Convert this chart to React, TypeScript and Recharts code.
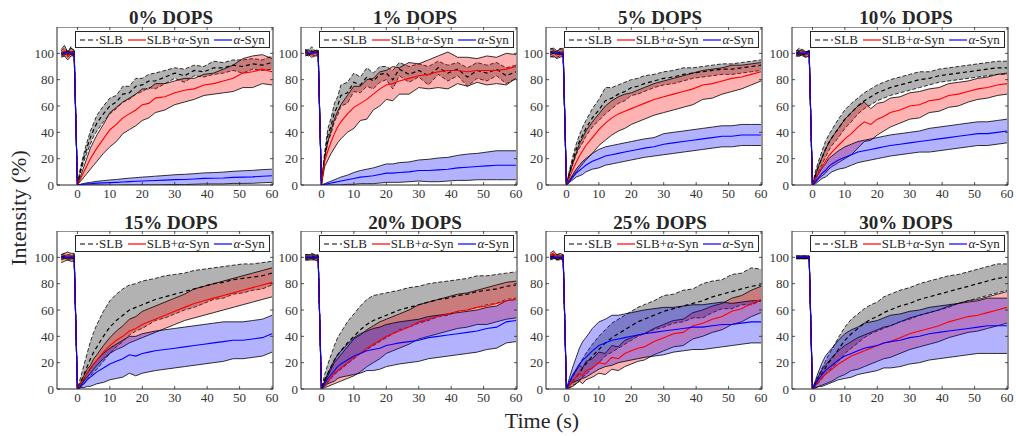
import React from "react";
import { ComposedChart, Area, Line, XAxis, YAxis, ReferenceArea } from "recharts";

const times = [-5, -4, -3, -2, -1, 0, 1, 2, 3, 4, 5, 6, 8, 10, 12, 14, 16, 18, 20, 22, 24, 27, 30, 33, 36, 39, 42, 45, 48, 51, 54, 57, 60];
const titles = ["0% DOPS", "1% DOPS", "5% DOPS", "10% DOPS", "15% DOPS", "20% DOPS", "25% DOPS", "30% DOPS"];
const xTicks = [0, 10, 20, 30, 40, 50, 60];
const yTicks = [0, 20, 40, 60, 80, 100];

// 0% DOPS
const p0SlbMean = [100, 101, 99, 102, 100, 0, 12, 21, 29, 36, 42, 47, 54, 60, 63, 69, 70, 75, 76, 79, 79, 82, 85, 83, 87, 86, 89, 89, 91, 90, 92, 91, 93];
const p0SlbSd = [2, 3, 2, 3, 2, 0, 2, 3, 4, 5, 5, 6, 6, 6, 5, 6, 5, 6, 5, 5, 6, 5, 4, 5, 4, 4, 5, 4, 4, 5, 4, 4, 5];
const p0SynMean = [100, 102, 98, 101, 100, 0, 5, 10, 15, 20, 24, 28, 35, 42, 46, 51, 54, 57, 61, 62, 66, 67, 70, 72, 73, 76, 77, 79, 81, 85, 86, 88, 86];
const p0SynSd = [3, 4, 3, 3, 2, 0, 2, 4, 6, 8, 9, 10, 11, 13, 13, 12, 12, 12, 12, 11, 11, 10, 9, 9, 8, 8, 8, 9, 10, 11, 12, 11, 10];
const p0AMean = [100, 100, 101, 100, 100, 0, 0.3, 0.6, 0.9, 1, 1.2, 1.4, 1.6, 1.8, 2, 2.3, 2.6, 2.8, 3, 3.2, 3.4, 3.7, 4.1, 4.2, 4.6, 5, 5.1, 5.3, 5.8, 6, 6.2, 6.7, 7];
const p0ASd = [1, 1, 1, 1, 1, 0, 0.3, 0.6, 0.8, 1, 1.2, 1.4, 1.7, 2, 2.2, 2.4, 2.6, 2.8, 3, 3.1, 3.3, 3.5, 3.7, 3.9, 4, 4.2, 4.3, 4.5, 4.6, 4.8, 4.9, 5, 5];

// 1% DOPS
const p1SlbMean = [101, 100, 102, 100, 101, 0, 22, 38, 45, 55, 60, 68, 70, 78, 76, 82, 79, 84, 85, 80, 88, 84, 87, 83, 89, 85, 88, 82, 87, 85, 88, 83, 86];
const p1SlbSd = [2, 2, 3, 2, 2, 0, 3, 5, 6, 7, 7, 8, 8, 7, 6, 7, 6, 6, 5, 7, 5, 6, 5, 7, 5, 6, 5, 7, 6, 6, 5, 6, 5];
const p1SynMean = [100, 101, 99, 100, 100, 0, 18, 26, 33, 39, 44, 48, 54, 59, 62, 65, 69, 73, 76, 77, 79, 81, 83, 84, 86, 87, 87, 86, 87, 87, 87, 88, 90];
const p1SynSd = [2, 2, 2, 2, 2, 0, 4, 7, 9, 11, 12, 13, 14, 16, 13, 15, 12, 13, 11, 13, 10, 12, 9, 11, 12, 14, 10, 11, 9, 11, 10, 12, 9];
const p1AMean = [101, 100, 100, 101, 100, 0, 0.5, 1, 1.5, 2, 2.5, 3, 4, 5, 6, 6.5, 7, 8, 9, 9, 9.5, 10, 11, 11, 11.5, 12, 13, 13.5, 14, 14.5, 15, 15, 15];
const p1ASd = [1, 1, 1, 1, 1, 0, 0.5, 1, 1.5, 2, 2.5, 3, 3.5, 4.5, 5, 5.5, 6, 6.5, 7, 7, 7.5, 7.5, 8, 8.5, 9, 9, 9.5, 10, 10, 10.5, 11, 11, 11];

// 5% DOPS
const p2SlbMean = [101, 100, 99, 101, 100, 0, 10, 19, 27, 33, 38, 43, 51, 57, 64, 66, 69, 71, 74, 75, 77, 79, 81, 82, 84, 85, 86, 87, 88, 88, 89, 90, 91];
const p2SlbSd = [3, 3, 2, 3, 2, 0, 2, 3, 4, 5, 6, 6, 7, 8, 10, 8, 7, 7, 6, 6, 6, 5, 5, 5, 5, 4, 4, 4, 4, 4, 4, 4, 4];
const p2SynMean = [100, 101, 99, 100, 101, 0, 6, 12, 17, 22, 26, 30, 36, 42, 47, 51, 54, 56, 58, 60, 62, 65, 67, 69, 71, 73, 76, 77, 79, 81, 82, 84, 86];
const p2SynSd = [3, 3, 3, 3, 3, 0, 3, 5, 7, 9, 10, 11, 12, 12, 13, 13, 13, 13, 12, 12, 12, 12, 12, 12, 12, 12, 11, 11, 10, 10, 9, 8, 7];
const p2AMean = [100, 101, 100, 100, 100, 0, 3, 6, 9, 11, 13, 15, 18, 20, 22, 23, 24, 25, 26, 27, 28, 29, 31, 32, 33, 34, 35, 36, 37, 37, 38, 38, 38];
const p2ASd = [1, 1, 1, 1, 1, 0, 1, 2, 3, 4, 5, 5, 6, 7, 7, 7, 7, 7, 7, 7, 7, 7, 8, 8, 8, 8, 8, 8, 8, 8, 8, 8, 8];

// 10% DOPS
const p3SlbMean = [100, 101, 100, 99, 100, 0, 8, 15, 21, 27, 32, 36, 43, 50, 55, 60, 64, 67, 70, 72, 74, 76, 78, 80, 81, 83, 84, 85, 86, 87, 88, 89, 89];
const p3SlbSd = [2, 3, 2, 2, 2, 0, 3, 4, 5, 6, 6, 6, 7, 7, 7, 6, 6, 6, 6, 6, 6, 6, 6, 6, 5, 5, 5, 5, 5, 5, 5, 5, 5];
const p3SynMean = [100, 100, 101, 99, 100, 0, 5, 10, 14, 18, 22, 25, 30, 35, 39, 44, 48, 46, 50, 52, 55, 57, 60, 61, 64, 65, 68, 69, 71, 73, 74, 76, 77];
const p3SynSd = [2, 2, 2, 2, 2, 0, 3, 5, 7, 9, 10, 11, 13, 15, 16, 16, 15, 12, 12, 11, 11, 10, 10, 10, 9, 9, 9, 9, 8, 8, 8, 8, 8];
const p3AMean = [100, 100, 100, 100, 101, 0, 3, 6, 9, 11, 14, 16, 19, 21, 23, 25, 26, 27, 28, 29, 30, 31, 32, 33, 34, 35, 36, 37, 38, 39, 39, 40, 41];
const p3ASd = [1, 1, 1, 1, 1, 0, 2, 3, 4, 5, 6, 6, 7, 8, 8, 8, 8, 8, 8, 8, 8, 8, 8, 8, 9, 9, 9, 9, 9, 9, 9, 9, 9];

// 15% DOPS
const p4SlbMean = [100, 101, 100, 100, 100, 0, 5, 11, 17, 23, 28, 32, 40, 47, 52, 56, 60, 62, 64, 66, 68, 70, 72, 74, 76, 78, 80, 81, 83, 84, 85, 86, 88];
const p4SlbSd = [2, 2, 2, 2, 2, 0, 4, 7, 10, 13, 15, 17, 19, 20, 20, 20, 19, 18, 18, 17, 16, 16, 15, 14, 14, 13, 12, 12, 11, 11, 10, 10, 9];
const p4SynMean = [99, 100, 101, 100, 100, 0, 4, 8, 12, 15, 19, 22, 28, 33, 37, 40, 44, 46, 49, 51, 53, 56, 59, 62, 65, 67, 69, 71, 73, 75, 77, 79, 81];
const p4SynSd = [3, 3, 3, 3, 3, 0, 1, 2, 3, 3, 4, 4, 5, 6, 7, 8, 9, 9, 10, 10, 10, 10, 10, 10, 11, 11, 11, 11, 11, 11, 11, 11, 11];
const p4AMean = [100, 100, 100, 100, 100, 0, 2, 4, 7, 9, 11, 13, 16, 19, 21, 23, 26, 25, 27, 28, 29, 30, 31, 32, 33, 34, 35, 36, 37, 37, 38, 39, 42];
const p4ASd = [1, 1, 1, 1, 1, 0, 1, 3, 5, 7, 8, 9, 11, 12, 13, 14, 14, 15, 15, 15, 15, 15, 15, 15, 15, 15, 15, 15, 14, 14, 14, 14, 14];

// 20% DOPS
const p5SlbMean = [100, 100, 101, 100, 100, 0, 7, 12, 17, 22, 26, 29, 35, 40, 45, 49, 52, 54, 56, 58, 60, 62, 64, 66, 68, 69, 71, 72, 74, 75, 76, 78, 79];
const p5SlbSd = [2, 2, 2, 2, 2, 0, 4, 7, 9, 11, 13, 14, 16, 17, 18, 19, 19, 18, 17, 16, 15, 15, 14, 14, 13, 13, 12, 12, 12, 11, 11, 10, 10];
const p5SynMean = [100, 100, 100, 100, 99, 0, 3, 6, 9, 12, 14, 16, 20, 24, 27, 31, 34, 37, 40, 42, 44, 47, 51, 53, 55, 57, 59, 60, 62, 63, 65, 67, 68];
const p5SynSd = [2, 2, 2, 2, 2, 0, 2, 4, 6, 8, 9, 10, 12, 14, 14, 14, 14, 14, 13, 13, 13, 13, 13, 13, 13, 13, 13, 13, 13, 14, 14, 14, 14];
const p5AMean = [100, 100, 100, 100, 100, 0, 4, 8, 11, 14, 17, 19, 22, 25, 27, 29, 30, 31, 33, 34, 35, 36, 37, 39, 40, 41, 42, 43, 44, 46, 47, 51, 52];
const p5ASd = [1, 1, 1, 1, 1, 0, 2, 4, 6, 8, 9, 10, 12, 14, 15, 15, 16, 16, 16, 16, 16, 16, 16, 16, 16, 16, 16, 16, 16, 16, 16, 16, 16];

// 25% DOPS
const p6SlbMean = [100, 101, 100, 100, 100, 0, 3, 6, 9, 12, 16, 19, 25, 30, 35, 39, 42, 45, 48, 51, 53, 56, 59, 61, 63, 65, 67, 70, 72, 74, 76, 78, 79];
const p6SlbSd = [2, 2, 2, 2, 2, 0, 2, 3, 5, 6, 7, 8, 9, 10, 10, 11, 11, 11, 11, 11, 11, 11, 12, 11, 12, 11, 13, 12, 11, 13, 12, 14, 12];
const p6SynMean = [101, 103, 100, 101, 100, 0, 3, 6, 9, 12, 10, 14, 16, 20, 19, 24, 23, 27, 29, 31, 32, 36, 39, 42, 43, 48, 50, 53, 55, 59, 61, 65, 68];
const p6SynSd = [2, 2, 2, 2, 2, 0, 2, 4, 5, 6, 6, 7, 7, 8, 8, 9, 9, 10, 10, 10, 10, 10, 10, 10, 10, 10, 10, 10, 10, 10, 10, 10, 10];
const p6AMean = [100, 100, 100, 100, 100, 0, 6, 11, 15, 19, 22, 24, 29, 33, 35, 37, 38, 39, 40, 41, 42, 43, 44, 45, 46, 47, 47, 48, 49, 49, 50, 51, 51];
const p6ASd = [1, 1, 1, 1, 1, 0, 3, 6, 9, 12, 14, 15, 17, 18, 18, 19, 18, 18, 18, 18, 18, 18, 18, 17, 17, 17, 17, 17, 17, 16, 16, 16, 16];

// 30% DOPS
const p7SlbMean = [100, 100, 100, 100, 100, 0, 4, 8, 12, 16, 20, 23, 30, 37, 42, 46, 50, 53, 55, 58, 60, 63, 65, 68, 70, 72, 74, 76, 78, 80, 82, 84, 85];
const p7SlbSd = [1, 1, 1, 1, 1, 0, 2, 3, 4, 5, 6, 7, 9, 10, 11, 11, 11, 11, 11, 12, 12, 12, 12, 12, 12, 12, 12, 11, 11, 11, 11, 11, 10];
const p7SynMean = [100, 100, 100, 100, 100, 0, 3, 6, 9, 11, 13, 15, 19, 22, 25, 27, 29, 31, 33, 35, 36, 39, 42, 44, 46, 48, 51, 53, 55, 56, 58, 60, 62];
const p7SynSd = [1, 1, 1, 1, 1, 0, 2, 4, 6, 7, 8, 9, 10, 11, 11, 12, 12, 12, 12, 12, 12, 12, 12, 12, 12, 12, 12, 12, 12, 12, 12, 12, 12];
const p7AMean = [100, 100, 100, 100, 100, 0, 4, 8, 11, 14, 16, 18, 22, 25, 27, 29, 31, 32, 33, 35, 36, 37, 39, 40, 42, 43, 44, 45, 46, 47, 48, 48, 48];
const p7ASd = [1, 1, 1, 1, 1, 0, 3, 6, 9, 11, 12, 13, 15, 17, 18, 18, 19, 19, 19, 19, 20, 20, 20, 20, 20, 20, 20, 20, 20, 20, 21, 21, 21];

const panelSeries = [
  [p0SlbMean, p0SlbSd, p0SynMean, p0SynSd, p0AMean, p0ASd],
  [p1SlbMean, p1SlbSd, p1SynMean, p1SynSd, p1AMean, p1ASd],
  [p2SlbMean, p2SlbSd, p2SynMean, p2SynSd, p2AMean, p2ASd],
  [p3SlbMean, p3SlbSd, p3SynMean, p3SynSd, p3AMean, p3ASd],
  [p4SlbMean, p4SlbSd, p4SynMean, p4SynSd, p4AMean, p4ASd],
  [p5SlbMean, p5SlbSd, p5SynMean, p5SynSd, p5AMean, p5ASd],
  [p6SlbMean, p6SlbSd, p6SynMean, p6SynSd, p6AMean, p6ASd],
  [p7SlbMean, p7SlbSd, p7SynMean, p7SynSd, p7AMean, p7ASd],
];

const FW = 216;
const FH = 158;
const colLeft = [57, 301, 546, 792];
const rowTop = [27, 231];
const AXIS_W = 40;
const AXIS_H = 20;
const RIGHT_PAD = 14;
const serif = "Liberation Serif";
const ink = "#262626";

function buildRows(s: number[][]) {
  const [sm, ss, rm, rs, am, as] = s;
  return times.map((t, i) => ({
    t,
    slb: sm[i],
    slbBand: [sm[i] - ss[i], sm[i] + ss[i]],
    syn: rm[i],
    synBand: [rm[i] - rs[i], rm[i] + rs[i]],
    a: am[i],
    aBand: [am[i] - as[i], am[i] + as[i]],
  }));
}

function XTick(props: any) {
  const { x, y, payload } = props;
  return (
    <g>
      <line x1={x} x2={x} y1={y} y2={y - 3} stroke={ink} strokeWidth={0.8} />
      <line x1={x} x2={x} y1={y - FH} y2={y - FH + 3} stroke={ink} strokeWidth={0.8} />
      <text x={x} y={y + 13} textAnchor="middle" fill="#333" fontSize={13} style={{ fontFamily: serif }}>
        {payload.value}
      </text>
    </g>
  );
}

function YTick(props: any) {
  const { x, y, payload } = props;
  return (
    <g>
      <line x1={x} x2={x + 3} y1={y} y2={y} stroke={ink} strokeWidth={0.8} />
      <line x1={x + FW} x2={x + FW - 3} y1={y} y2={y} stroke={ink} strokeWidth={0.8} />
      <text x={x - 3} y={y + 4.5} textAnchor="end" fill="#333" fontSize={13} style={{ fontFamily: serif }}>
        {payload.value}
      </text>
    </g>
  );
}

function LegendBox({ left, top }: { left: number; top: number }) {
  const item = (color: string, dash: string | undefined, label: React.ReactNode) => (
    <span style={{ display: "flex", alignItems: "center", marginRight: 5 }}>
      <svg width={18} height={6} style={{ marginRight: 1 }}>
        <line x1={0} x2={18} y1={3} y2={3} stroke={color} strokeWidth={1.2} strokeDasharray={dash} />
      </svg>
      {label}
    </span>
  );
  return (
    <div
      style={{
        position: "absolute",
        left,
        top,
        width: 195,
        height: 17,
        border: `1px solid ${ink}`,
        background: "#fff",
        display: "flex",
        alignItems: "center",
        paddingLeft: 4,
        boxSizing: "border-box",
        fontFamily: serif,
        fontSize: 13,
        color: ink,
        whiteSpace: "nowrap",
      }}
    >
      {item("#000", "5 3", "SLB")}
      {item("#ff0000", undefined, <span>SLB+<i>α</i>-Syn</span>)}
      {item("#0000ff", undefined, <span><i>α</i>-Syn</span>)}
    </div>
  );
}

function Panel({ idx }: { idx: number }) {
  const fx = colLeft[idx % 4];
  const fy = rowTop[Math.floor(idx / 4)];
  const rows = buildRows(panelSeries[idx]);
  const w = AXIS_W + FW + RIGHT_PAD;
  const h = FH + AXIS_H;
  return (
    <>
      <div style={{ position: "absolute", left: fx - AXIS_W, top: fy }}>
        <ComposedChart width={w} height={h} data={rows} margin={{ top: 0, right: RIGHT_PAD, bottom: 0, left: 0 }}>
          <XAxis
            dataKey="t"
            type="number"
            domain={[-6.3, 60.3]}
            ticks={xTicks}
            interval={0}
            allowDataOverflow
            axisLine={false}
            tickLine={false}
            tickSize={0}
            tickMargin={0}
            height={AXIS_H}
            tick={(p: any) => <XTick {...p} />}
          />
          <YAxis
            type="number"
            domain={[0, 120]}
            ticks={yTicks}
            interval={0}
            allowDataOverflow
            axisLine={false}
            tickLine={false}
            tickSize={0}
            tickMargin={0}
            width={AXIS_W}
            tick={(p: any) => <YTick {...p} />}
          />
          <Area type="linear" dataKey="slbBand" fill="#000" fillOpacity={0.3} stroke="#000" strokeWidth={0.8} strokeDasharray="4 2" isAnimationActive={false} />
          <Line type="linear" dataKey="slb" stroke="#000" strokeWidth={1.2} strokeDasharray="4 3" dot={false} isAnimationActive={false} />
          <Area type="linear" dataKey="synBand" fill="#ff0000" fillOpacity={0.3} stroke="#000" strokeWidth={0.8} isAnimationActive={false} />
          <Line type="linear" dataKey="syn" stroke="#ff0000" strokeWidth={1.1} dot={false} isAnimationActive={false} />
          <Area type="linear" dataKey="aBand" fill="#0000ff" fillOpacity={0.3} stroke="#000" strokeWidth={0.8} isAnimationActive={false} />
          <Line type="linear" dataKey="a" stroke="#0000ff" strokeWidth={1.1} dot={false} isAnimationActive={false} />
          <ReferenceArea x1={-6.3} x2={60.3} y1={0} y2={120} fill="none" stroke={ink} strokeWidth={1} ifOverflow="visible" />
        </ComposedChart>
      </div>
      <LegendBox left={fx + FW - 198} top={fy + 4} />
    </>
  );
}

export default function App() {
  return (
    <div style={{ position: "absolute", left: 0, top: 0, width: 1016, height: 436, background: "#fff", overflow: "hidden" }}>
      <svg width={1016} height={436} style={{ position: "absolute", left: 0, top: 0 }}>
        {titles.map((tt, i) => (
          <text
            key={tt}
            x={colLeft[i % 4] + FW / 2 + 6}
            y={i < 4 ? 24 : 229}
            textAnchor="middle"
            style={{ fontFamily: serif }}
            fontWeight="bold"
            fontSize={19}
            fill={ink}
          >
            {tt}
          </text>
        ))}
        <text x={0} y={0} transform="translate(26,208) rotate(-90)" textAnchor="middle" style={{ fontFamily: serif }} fontSize={22} fill={ink}>
          Intensity (%)
        </text>
        <text x={542} y={428} textAnchor="middle" style={{ fontFamily: serif }} fontSize={22} fill={ink}>
          Time (s)
        </text>
      </svg>
      {titles.map((tt, i) => (
        <Panel key={tt} idx={i} />
      ))}
    </div>
  );
}
